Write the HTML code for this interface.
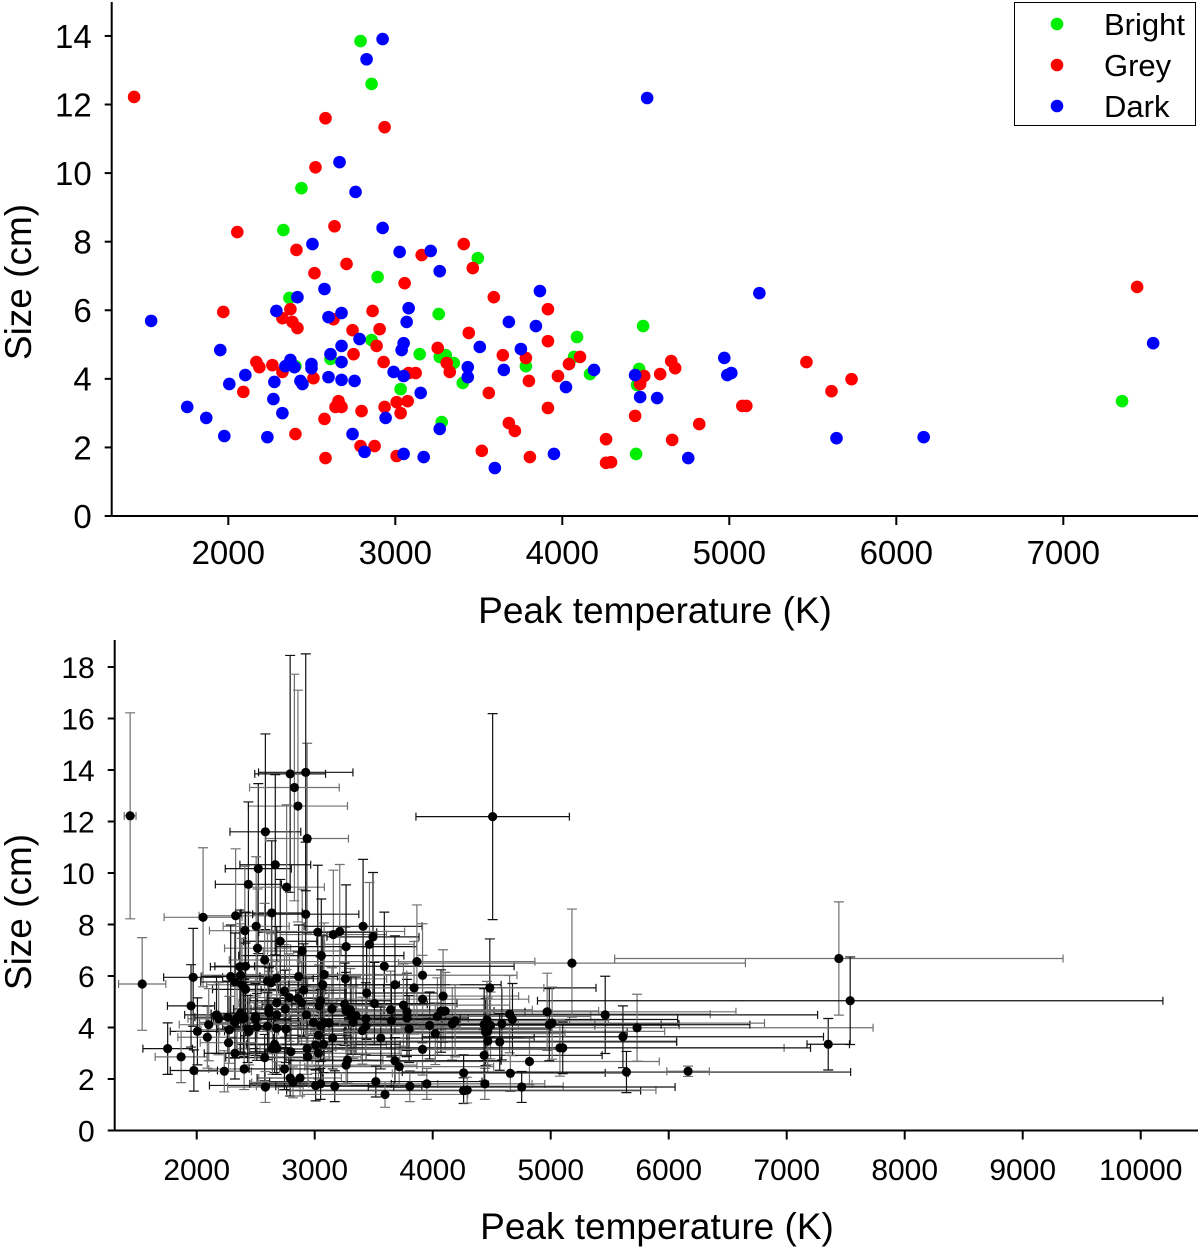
<!DOCTYPE html>
<html><head><meta charset="utf-8"><style>
html,body{margin:0;padding:0;background:#fff;}
svg{display:block;font-family:"Liberation Sans",Arial,sans-serif;}
</style></head><body>
<svg id="chart" width="1200" height="1247" viewBox="0 0 1200 1247" xmlns="http://www.w3.org/2000/svg">
<defs>
<clipPath id="clipBot"><rect x="115" y="640" width="1085" height="491"/></clipPath>
</defs>
<g id="topPanel"></g>
<g id="botPanel"></g>
</svg>
<script>
const brightT=[2792,2858,2438,2330,2366,2894,3494,3260,2858,3146,3266,3302,3350,3404,3032,3278,3782,4088,4070,4166,4484,4460,4448,4442,7352,2612,2402];
const brightS=[13.85,12.6,9.56,8.34,6.36,6.97,7.52,5.89,5.13,4.72,4.64,4.69,4.46,3.88,3.70,2.74,4.37,5.22,4.64,4.14,5.54,4.29,3.82,1.81,3.35,4.58,4.37];
const brightTE=[300,420,280,310,250,330,390,350,260,300,320,380,290,410,270,300,520,640,450,560,900,700,1200,400,180,330,260];
const brightSE=[4.6,4.5,3.2,2.6,2.2,2.4,2.5,2.0,1.8,1.6,1.5,1.6,1.5,1.3,1.2,0.9,1.5,1.8,1.6,1.4,1.9,1.5,1.3,0.6,1.0,1.6,1.5];

const greyT=[1436,2582,2936,2522,2054,2636,2408,2708,2516,3056,3158,3410,3464,1970,2372,2324,2384,2414,2630,2864,2744,2906,2888,2750,2930,2168,2186,2264,2324,2510,2090,2660,2642,2678,3008,3074,2936,2798,3032,2576,2402,2792,2876,3008,2582,3590,3914,3440,3914,3254,3644,3782,4106,3308,3326,3080,3122,3974,4040,3800,4490,4586,4652,4676,4466,3560,3914,4436,4820,3680,3716,4262,4658,3518,3806,4262,4292,5462,5732,5612,5078,5102,7442];
const greyS=[12.22,11.6,11.34,10.17,8.28,8.45,7.76,7.35,7.08,6.79,7.61,7.93,7.23,5.95,6.03,5.77,5.66,5.48,5.74,5.98,5.42,5.45,4.96,4.72,4.49,4.49,4.34,4.40,4.20,4.02,3.62,3.35,3.18,3.18,3.32,3.35,3.18,3.06,3.00,2.83,2.39,2.04,2.04,1.75,1.69,6.38,6.03,5.34,5.10,4.90,4.69,4.61,4.64,4.46,4.20,4.17,4.17,4.08,4.43,3.94,4.08,4.14,4.52,4.31,3.85,3.59,3.15,2.92,2.68,2.71,2.48,2.24,2.22,1.90,1.72,1.55,1.57,4.49,3.99,3.64,3.21,3.21,6.68];
const greyTE=[50,300,350,280,330,260,300,310,280,700,450,500,380,250,320,290,300,280,310,330,350,360,300,290,400,270,260,280,300,290,250,320,300,310,600,650,400,350,700,330,300,280,350,900,320,1100,800,600,900,700,1200,1000,1300,800,900,1000,1100,1400,1300,1200,1600,1500,1700,1400,1500,1300,1200,1000,1100,900,800,1200,1000,900,1300,1500,1600,1800,2000,1700,1900,2100,1900];
const greySE=[4.0,3.8,3.7,3.3,2.7,2.8,2.5,2.4,2.3,2.2,2.5,2.6,2.4,1.9,2.0,1.9,1.8,1.8,1.9,2.0,1.8,1.8,1.6,1.5,1.5,1.5,1.4,1.4,1.4,1.3,1.2,1.1,1.0,1.0,1.1,1.1,1.0,1.0,1.0,0.9,0.8,0.7,0.7,0.6,0.6,2.1,2.0,1.8,1.7,1.6,1.5,1.5,1.5,1.5,1.4,1.4,1.4,1.3,1.5,1.3,1.3,1.4,1.5,1.4,1.3,1.2,1.0,1.0,0.9,0.9,0.8,0.7,0.7,0.6,0.6,0.5,0.5,1.5,1.3,1.2,1.1,1.0,2.2];

const darkT=[2924,2828,2666,2762,2924,2504,3026,3212,3266,2576,2414,1538,2288,2600,2678,3080,3068,2786,3050,3038,1952,2678,2612,2678,2372,2342,2396,2498,2498,2990,3050,2102,2006,2276,2432,2444,2600,2678,2756,2270,1754,1868,2324,2942,1976,2234,2744,2816,3050,3866,3680,3842,3506,3752,3434,3434,3650,4190,4436,4022,3152,4466,4568,3266,3170,3950,4754,3596,4508,5180,7538,4970,4988,5012,5642,6164];
const darkS=[13.91,13.32,10.32,9.45,8.40,7.93,7.70,7.73,7.14,6.62,6.38,5.69,5.98,5.80,5.92,6.06,5.66,5.16,5.04,4.84,4.84,4.96,4.72,4.49,4.55,4.37,4.34,4.43,4.31,4.20,4.08,4.11,3.85,3.91,3.94,3.85,4.05,3.97,3.94,3.41,3.18,2.86,3.00,2.86,2.33,2.30,2.39,1.87,1.81,6.56,5.66,5.54,4.93,4.87,4.34,4.05,4.26,4.26,4.11,3.76,3.59,3.47,3.44,2.54,1.72,1.81,1.69,1.40,12.19,6.50,5.04,4.61,4.11,4.17,2.27,2.30];
const darkTE=[400,380,300,320,450,280,500,550,600,300,260,200,250,300,310,700,650,330,600,550,200,320,300,290,250,260,270,280,300,500,600,250,230,240,260,250,280,300,320,240,210,220,260,450,200,230,300,350,600,1000,900,1100,700,900,800,800,1000,1300,1500,1100,500,1600,1500,600,500,1000,1300,700,650,1470,2650,1600,1700,1800,1900,180];
const darkSE=[4.6,4.4,3.5,3.2,2.8,2.7,2.6,2.6,2.4,2.2,2.1,1.8,2.0,1.9,2.0,2.0,1.9,1.7,1.7,1.6,1.6,1.6,1.6,1.5,1.5,1.4,1.4,1.5,1.4,1.4,1.4,1.4,1.3,1.3,1.3,1.3,1.3,1.3,1.3,1.1,1.0,1.0,1.0,1.0,0.8,0.8,0.8,0.6,0.6,2.2,1.9,1.8,1.6,1.6,1.4,1.3,1.4,1.4,1.4,1.2,1.2,1.2,1.1,0.8,0.6,0.6,0.6,0.5,4.0,2.1,1.7,1.5,1.4,1.4,0.8,0.2];

const topXTicks=[2000,3000,4000,5000,6000,7000];
const topYTicks=[0,2,4,6,8,10,12,14];
const botXTicks=[2000,3000,4000,5000,6000,7000,8000,9000,10000];
const botYTicks=[0,2,4,6,8,10,12,14,16,18];

const NS="http://www.w3.org/2000/svg";
function mk(tag,attrs,parent){const e=document.createElementNS(NS,tag);for(const k in attrs)e.setAttribute(k,attrs[k]);parent.appendChild(e);return e;}

const tx=v=>228.3+(v-2000)*0.1670;
const ty=v=>516-v*34.29;
const bx=v=>196.7+(v-2000)*0.11800;
const by=v=>1130.5-v*25.75;

const topG=document.getElementById('topPanel');
const botG=document.getElementById('botPanel');

function axes(g,xf,yf,xt,yt,x0,y0,yTop,xRight,labY,xlabY,xlabCx,ylabCy,pfx,fs){
  let a=mk('line',{x1:x0,y1:yTop,x2:x0,y2:y0,stroke:'#000','stroke-width':2},g);
  
  
  a=mk('line',{x1:x0,y1:y0,x2:xRight,y2:y0,stroke:'#000','stroke-width':2},g);
  
  
  xt.forEach(v=>{
    const x=xf(v);
    mk('line',{x1:x,y1:y0,x2:x,y2:y0+9,stroke:'#000','stroke-width':2},g);
    const t=mk('text',{x:x,y:labY,'font-size':fs,'text-anchor':'middle',fill:'#000'},g);
    t.textContent=v;
    
    
  });
  yt.forEach(v=>{
    const y=yf(v);
    mk('line',{x1:x0-7,y1:y,x2:x0,y2:y,stroke:'#000','stroke-width':2},g);
    const t=mk('text',{x:x0-20,y:y+fs*0.36,'font-size':fs,'text-anchor':'end',fill:'#000'},g);
    t.textContent=v;
    
    
  });
  let t=mk('text',{x:xlabCx,y:xlabY,'font-size':37,'text-anchor':'middle',fill:'#000'},g);
  t.textContent='Peak temperature (K)';
  
  
  t=mk('text',{x:0,y:0,'font-size':37,'text-anchor':'middle',fill:'#000',transform:`translate(31,${ylabCy}) rotate(-90)`},g);
  t.textContent='Size (cm)';
  
  
}
axes(topG,tx,ty,topXTicks,topYTicks,111.7,516,2,1198,564,623,655,282,'top',33);
axes(botG,bx,by,botXTicks,botYTicks,114.7,1130.5,640,1198,1180,1239,657,912,'bottom',30);

const series=[['bright','#00ee00',brightT,brightS],['grey','#ff0000',greyT,greyS],['dark','#0000ff',darkT,darkS]];
series.forEach(([nm,col,T,S])=>{
  T.forEach((t,i)=>{
    const c=mk('circle',{cx:tx(t),cy:ty(S[i]),r:6.3,fill:col},topG);
    
    
  });
});
const lg=mk('g',{},topG);


mk('rect',{x:1014.5,y:2.5,width:181,height:123,fill:'#fff',stroke:'#000','stroke-width':1},lg);
[['Bright','#00ee00'],['Grey','#ff0000'],['Dark','#0000ff']].forEach(([lab,col],k)=>{
  const y=24+k*41;
  const c=mk('circle',{cx:1057,cy:y,r:6.3,fill:col},lg);
  
  
  const t=mk('text',{x:1104,y:y+11,'font-size':31,fill:'#000'},lg);
  t.textContent=lab;
  
  
});

const eg=mk('g',{'clip-path':'url(#clipBot)'},botG);


const errSets=[[brightT,brightS,brightTE,brightSE],[greyT,greyS,greyTE,greySE],[darkT,darkS,darkTE,darkSE]];
let idx=0;
errSets.forEach(([T,S,TE,SE])=>{
  T.forEach((t,i)=>{
    const col=(idx++%2===0)?'#111':'#707070';
    const x=bx(t),y=by(S[i]);
    const x1=bx(t-TE[i]),x2=bx(t+TE[i]);
    const y1=by(S[i]+SE[i]),y2=by(S[i]-SE[i]);
    const p=mk('path',{d:`M${x1},${y}H${x2}M${x1},${y-4}V${y+4}M${x2},${y-4}V${y+4}M${x},${y1}V${y2}M${x-5},${y1}H${x+5}M${x-5},${y2}H${x+5}`,stroke:col,'stroke-width':1.2,fill:'none'},eg);
    
    
  });
});
errSets.forEach(([T,S])=>{
  T.forEach((t,i)=>{
    const c=mk('circle',{cx:bx(t),cy:by(S[i]),r:4.6,fill:'#000'},botG);
    
    
  });
});
</script>
</body></html>
